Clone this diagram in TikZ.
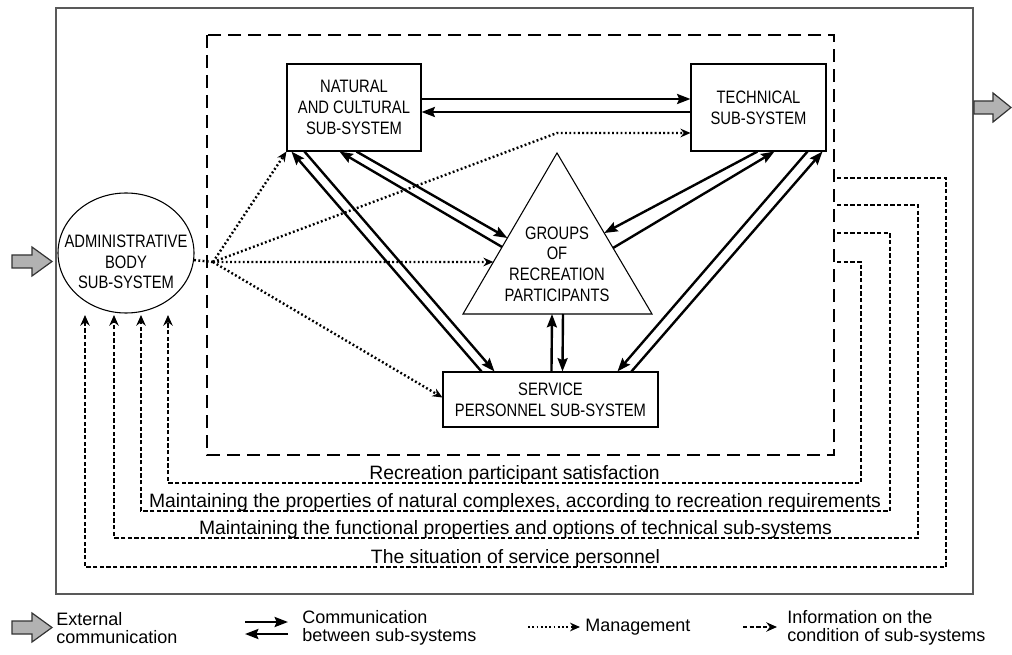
\documentclass[tikz,border=0pt]{standalone}
\usepackage{fontspec}
\setmainfont{Liberation Sans}
\newfontfamily\narrowfont{Liberation Sans}[FakeStretch=0.82]
\usetikzlibrary{arrows.meta,calc,shapes.geometric}
\begin{document}
\begin{tikzpicture}[x=0.75pt,y=-0.75pt,
  box/.style={draw, line width=0.8pt, inner sep=0pt, align=center, font=\narrowfont\fontsize{13.5}{15.5}\selectfont},
  comm/.style={line width=1.8pt, -{Stealth[length=10pt,width=7.5pt,inset=1.5pt]}},
  mgmt/.style={line width=1.8pt, dash pattern=on 1.4pt off 1.8pt, -{Stealth[length=7.5pt,width=6.5pt]}},
  info/.style={line width=1.5pt, dash pattern=on 3.2pt off 1.8pt, -{Stealth[length=8pt,width=7pt]}},
  subsys/.style={line width=2pt, dash pattern=on 10pt off 5pt},
  ext/.style={draw=black!80, fill=black!30, line width=0.9pt},
  lbl/.style={font=\fontsize{14.5}{16}\selectfont, inner sep=0pt, anchor=base},
  leg/.style={font=\fontsize{13.5}{14}\selectfont, align=left, anchor=west, inner sep=0pt},
]
\useasboundingbox (0,0) rectangle (1012,655);

% frames
\draw[draw=black!65, line width=1pt] (56,8) rectangle (973,594);
\draw[subsys] (207,35) rectangle (834,455);

% nodes
\node[box, minimum width=100.5pt, minimum height=65.25pt] (nat) at (354,107.5) {NATURAL\\AND CULTURAL\\SUB-SYSTEM};
\node[box, minimum width=101.25pt, minimum height=65.25pt] (tech) at (758.5,107.5) {TECHNICAL\\SUB-SYSTEM};
\node[box, minimum width=161.25pt, minimum height=41.25pt] (svc) at (550.5,399.5) {SERVICE\\PERSONNEL SUB-SYSTEM};
\node[draw, ellipse, line width=0.8pt, minimum width=102pt, minimum height=90pt, inner sep=0pt] (adm) at (126,253) {};
\node[box, draw=none] (admt) at (126,262) {ADMINISTRATIVE\\BODY\\SUB-SYSTEM};

\coordinate (tA) at (557,153);
\coordinate (tL) at (463,314);
\coordinate (tR) at (652,314);
\draw[line width=0.8pt] (tA) -- (tL) -- (tR) -- cycle;
\node[box, draw=none] (grp) at (557,264) {GROUPS\\OF\\RECREATION\\PARTICIPANTS};

% communication between sub-systems
\draw[comm] ($(nat.east)+(0,-8.5)$) -- ($(tech.west)+(0,-8.5)$);
\draw[comm] ($(tech.west)+(0,4.5)$) -- ($(nat.east)+(0,4.5)$);
\draw[comm] ($(svc.north west)+(39,0)$) -- ($(nat.south west)+(5,0)$);
\draw[comm] ($(nat.south west)+(18,0)$) -- ($(svc.north west)+(52,0)$);
\draw[comm] ($(tA)!0.584!(tL)$) -- ($(nat.south west)+(53,0)$);
\draw[comm] ($(nat.south west)+(70,0)$) -- ($(tA)!0.528!(tL)$);
\draw[comm] ($(tech.south west)+(67,0)$) -- ($(tA)!0.497!(tR)$);
\draw[comm] ($(tA)!0.59!(tR)$) -- ($(tech.south west)+(84,0)$);
\draw[comm] ($(tech.south west)+(117,0)$) -- ($(svc.north west)+(175,0)$);
\draw[comm] ($(svc.north west)+(189,0)$) -- ($(tech.south west)+(132,0)$);
\draw[comm] ($(svc.north west)+(109,0)$) -- ($(tL)!0.471!(tR)$);
\draw[comm] ($(tL)!0.529!(tR)$) -- ($(svc.north west)+(120,0)$);

% management
\coordinate (fan) at (213,262);
\coordinate (bend) at (557,133);
\draw[mgmt, -] (adm) -- (fan);
\draw[mgmt] (fan) -- (nat.south west);
\draw[mgmt] (fan) -- (bend) -- (bend -| tech.west);
\draw[mgmt] (fan) -- ($(tA)!0.677!(tL)$);
\draw[mgmt] (fan) -- ($(svc.west)+(0,-2)$);

% information on the condition of sub-systems
\coordinate (i1s) at (837,178); \coordinate (i1c) at (946,567); \coordinate (i1e) at (85,315);
\coordinate (i2s) at (837,205); \coordinate (i2c) at (918,538); \coordinate (i2e) at (114,315);
\coordinate (i3s) at (837,233); \coordinate (i3c) at (890,511); \coordinate (i3e) at (141,315);
\coordinate (i4s) at (837,262); \coordinate (i4c) at (861,483); \coordinate (i4e) at (168,315);
\draw[info] (i1s) -| (i1c) -| (i1e);
\draw[info] (i2s) -| (i2c) -| (i2e);
\draw[info] (i3s) -| (i3c) -| (i3e);
\draw[info] (i4s) -| (i4c) -| (i4e);
\node[lbl] (l1) at (515.5,563) {The situation of service personnel};
\node[lbl] (l2) at (515.5,534) {Maintaining the functional properties and options of technical sub-systems};
\node[lbl] (l3) at (515,507) {Maintaining the properties of natural complexes, according to recreation requirements};
\node[lbl] (l4) at (514.5,479) {Recreation participant satisfaction};

% external communication
\draw[ext] (12,255) -- (32,255) -- (32,247) -- (52,261.5) -- (32,276) -- (32,268) -- (12,268) -- cycle;
\draw[ext] (974,101) -- (993,101) -- (993,93) -- (1011,107.5) -- (993,122) -- (993,114) -- (974,114) -- cycle;

% legend
\draw[ext] (12,621) -- (32,621) -- (32,613) -- (52,627.5) -- (32,642) -- (32,634) -- (12,634) -- cycle;
\node[leg] (lext) at (56,628) {External\\communication};
\coordinate (c1a) at (245,622); \coordinate (c1b) at (288,622);
\coordinate (c2a) at (288,634); \coordinate (c2b) at (245,634);
\draw[comm] (c1a) -- (c1b);
\draw[comm] (c2a) -- (c2b);
\node[leg] (lcomm) at (302,628) {Communication\\between sub-systems};
\coordinate (m1) at (528,627); \coordinate (m2) at (580,627);
\draw[mgmt] (m1) -- (m2);
\node[leg] (lmg) at (585,627) {Management};
\coordinate (n1) at (743,627); \coordinate (n2) at (777,627);
\draw[info] (n1) -- (n2);
\node[leg] (linf) at (787,628) {Information on the\\condition of sub-systems};
\end{tikzpicture}
\end{document}
